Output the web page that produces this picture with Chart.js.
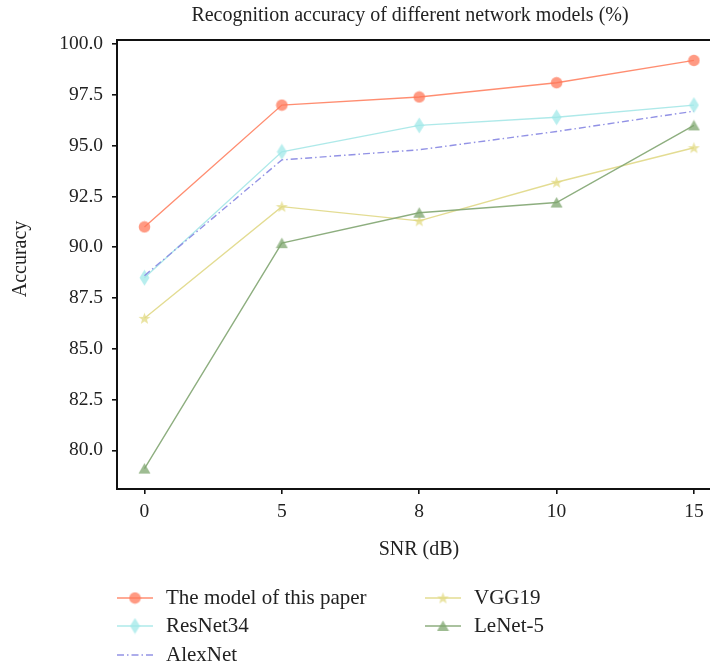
<!DOCTYPE html>
<html>
<head>
<meta charset="utf-8">
<script src="https://cdn.jsdelivr.net/npm/chart.js@4.4.1/dist/chart.umd.min.js"></script>
<style>
  html, body { margin: 0; padding: 0; background: #fff; overflow: hidden; }
  #wrap { width: 710px; height: 667px; overflow: hidden; }
</style>
</head>
<body>
<div id="wrap"><canvas id="c" width="710" height="667"></canvas></div>
<script>
// SNR levels (dB), shown as evenly spaced categories
const snrLabels = ['0', '5', '8', '10', '15'];
// Accuracy (%) per model
const oursAcc   = [91.0, 97.0, 97.4, 98.1, 99.2];
const resnetAcc = [88.5, 94.7, 96.0, 96.4, 97.0];
const alexAcc   = [88.6, 94.3, 94.8, 95.7, 96.7];
const vggAcc    = [86.5, 92.0, 91.3, 93.2, 94.9];
const lenetAcc  = [79.1, 90.2, 91.7, 92.2, 96.0];
// Y axis tick values
const yTickValues = [80, 82.5, 85, 87.5, 90, 92.5, 95, 97.5, 100];

const SERIF = '"Liberation Serif", "DejaVu Serif", serif';

// Marker sprites
function sprite(w, h, draw) {
  const c = document.createElement('canvas');
  c.width = w; c.height = h;
  const g = c.getContext('2d');
  draw(g, w, h);
  return c;
}
const circleMark = sprite(13, 13, (g) => {
  g.fillStyle = 'rgba(255,120,90,0.75)';
  g.beginPath(); g.arc(6.5, 6.5, 5.8, 0, Math.PI * 2); g.fill();
});
const diamondMark = sprite(11, 17, (g) => {
  g.fillStyle = 'rgba(160,232,232,0.75)';
  g.beginPath(); g.moveTo(5.5, 0.5); g.lineTo(10.5, 8.5); g.lineTo(5.5, 16.5); g.lineTo(0.5, 8.5); g.closePath(); g.fill();
});
const starMark = sprite(13, 13, (g) => {
  g.fillStyle = 'rgba(225,218,130,0.75)';
  g.beginPath();
  for (let i = 0; i < 10; i++) {
    const r = i % 2 === 0 ? 6.3 : 2.6;
    const a = -Math.PI / 2 + i * Math.PI / 5;
    const x = 6.5 + r * Math.cos(a), y = 7 + r * Math.sin(a);
    i === 0 ? g.moveTo(x, y) : g.lineTo(x, y);
  }
  g.closePath(); g.fill();
});
const triMark = sprite(13, 12, (g) => {
  g.fillStyle = 'rgba(125,165,110,0.75)';
  g.beginPath(); g.moveTo(6.5, 0.5); g.lineTo(12.5, 11); g.lineTo(0.5, 11); g.closePath(); g.fill();
});

function pts(arr) { return arr.map((v, i) => ({ x: i, y: v })); }

const series = [
  { label: 'The model of this paper', data: oursAcc,   color: 'rgba(255,135,105,0.95)', mark: circleMark,  dash: [] },
  { label: 'ResNet34',                data: resnetAcc, color: 'rgba(170,232,232,0.95)', mark: diamondMark, dash: [] },
  { label: 'AlexNet',                 data: alexAcc,   color: 'rgba(140,140,228,0.95)', mark: null,        dash: [7, 3, 1.5, 3] },
  { label: 'VGG19',                   data: vggAcc,    color: 'rgba(225,218,140,0.95)', mark: starMark,    dash: [] },
  { label: 'LeNet-5',                 data: lenetAcc,  color: 'rgba(135,170,120,0.95)', mark: triMark,     dash: [] }
];

const datasets = series.map(s => ({
  label: s.label,
  data: pts(s.data),
  borderColor: s.color,
  borderWidth: 1.4,
  borderDash: s.dash,
  pointStyle: s.mark || 'circle',
  pointRadius: s.mark ? 6 : 0,
  pointHoverRadius: s.mark ? 6 : 0,
  backgroundColor: s.color,
  tension: 0,
  clip: false
}));
// draw the top model last so it sits above the others
datasets.reverse();

const decor = {
  id: 'decor',
  afterDraw(chart) {
    const { ctx, chartArea: a } = chart;
    ctx.save();
    // axes frame: bottom, left and top edges; the right side runs past the canvas edge
    ctx.strokeStyle = '#111';
    ctx.lineWidth = 2;
    ctx.beginPath();
    ctx.moveTo(a.right + 5, a.bottom); ctx.lineTo(a.left, a.bottom);
    ctx.lineTo(a.left, a.top); ctx.lineTo(a.right + 5, a.top);
    ctx.stroke();

    ctx.fillStyle = '#222';
    ctx.textAlign = 'center';
    ctx.textBaseline = 'middle';
    // title
    ctx.font = '20px ' + SERIF;
    ctx.fillText('Recognition accuracy of different network models (%)', 410, 16);
    // x axis title
    ctx.fillText('SNR (dB)', 419, 550);
    // y axis title
    ctx.save();
    ctx.translate(21, 259);
    ctx.rotate(-Math.PI / 2);
    ctx.fillText('Accuracy', 0, 0);
    ctx.restore();

    // legend
    const rows = [
      { s: series[0], x: 117, y: 598 },
      { s: series[1], x: 117, y: 626 },
      { s: series[2], x: 117, y: 655 },
      { s: series[3], x: 425, y: 598 },
      { s: series[4], x: 425, y: 626 }
    ];
    ctx.font = '21px ' + SERIF;
    ctx.textAlign = 'left';
    rows.forEach(r => {
      ctx.save();
      ctx.strokeStyle = r.s.color;
      ctx.lineWidth = 1.4;
      ctx.setLineDash(r.s.dash);
      ctx.beginPath(); ctx.moveTo(r.x, r.y); ctx.lineTo(r.x + 36, r.y); ctx.stroke();
      ctx.restore();
      if (r.s.mark) {
        const m = r.s.mark;
        ctx.drawImage(m, r.x + 18 - m.width / 2, r.y - m.height / 2);
      }
      ctx.fillStyle = '#222';
      ctx.fillText(r.s.label, r.x + 49, r.y);
    });
    ctx.restore();
  }
};

new Chart(document.getElementById('c'), {
  type: 'line',
  data: { datasets },
  options: {
    responsive: false,
    animation: false,
    events: [],
    layout: { autoPadding: false, padding: { top: 40, right: 0, bottom: 138, left: 0 } },
    plugins: { legend: { display: false }, tooltip: { enabled: false }, title: { display: false } },
    scales: {
      x: {
        type: 'linear',
        min: -0.2,
        max: 4.117,
        afterFit(scale) { scale.height = 40; scale.paddingRight = 0; scale.paddingLeft = 0; },
        afterBuildTicks(scale) { scale.ticks = snrLabels.map((_, i) => ({ value: i })); },
        grid: { drawOnChartArea: false, drawTicks: true, tickLength: 5, color: '#111', lineWidth: 1.6 },
        border: { display: false },
        ticks: {
          padding: 6,
          color: '#222',
          font: { family: SERIF, size: 19.5 },
          maxRotation: 0,
          autoSkip: false,
          callback: (v) => snrLabels[v]
        }
      },
      y: {
        min: 78.095,
        max: 100.205,
        afterFit(scale) { scale.width = 117; },
        afterBuildTicks(scale) { scale.ticks = yTickValues.map(v => ({ value: v })); },
        grid: { drawOnChartArea: false, drawTicks: true, tickLength: 5, color: '#111', lineWidth: 1.6 },
        border: { display: false },
        ticks: {
          padding: 9,
          color: '#222',
          font: { family: SERIF, size: 19.5 },
          autoSkip: false,
          callback: (v) => Number(v).toFixed(1)
        }
      }
    }
  },
  plugins: [decor]
});
</script>
</body>
</html>
